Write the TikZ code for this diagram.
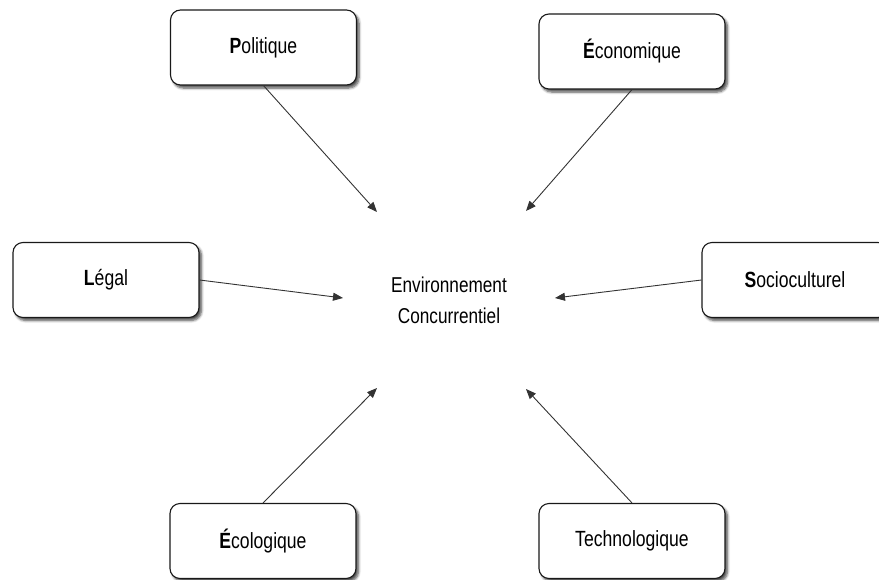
\documentclass[tikz,border=0pt]{standalone}
\usepackage{fontspec}
\setmainfont{Liberation Sans}[FakeStretch=0.8]
\usetikzlibrary{shadows.blur,arrows.meta}
\begin{document}
\begin{tikzpicture}[x=1pt,y=-1pt,
  factor/.style={draw=black!90, line width=1.1pt, fill=white, rounded corners=10pt,
    minimum width=186pt, minimum height=75pt, inner sep=0pt,
    font=\fontsize{22}{26}\selectfont,
    blur shadow={shadow xshift=2.5pt, shadow yshift=-3pt, shadow blur steps=6,
      shadow blur radius=2.5pt, shadow opacity=70}},
  link/.style={draw=black!80, line width=0.9pt, -{Triangle[length=10pt,width=8pt]}},
  centre/.style={align=center, font=\fontsize{21.5}{31}\selectfont, inner sep=0pt}]
\useasboundingbox (0,0) rectangle (879,579);
\node[factor] (pol) at (263.5,47.5) {\textbf{P}olitique};
\node[factor] (eco) at (632,51.5) {\textbf{É}conomique};
\node[factor] (leg) at (106,280) {\textbf{L}égal};
\node[factor] (soc) at (795,280) {\textbf{S}ocioculturel};
\node[factor] (ecl) at (263,541) {\textbf{É}cologique};
\node[factor] (tec) at (632,541) {Technologique};
\node[centre] (env) at (449,300) {Environnement\\Concurrentiel};
\coordinate (tpol) at (377,212);
\coordinate (teco) at (526,211);
\coordinate (tleg) at (343,298);
\coordinate (tsoc) at (555,298);
\coordinate (tecl) at (377,388);
\coordinate (ttec) at (526,389);
\draw[link] (pol.south) -- (tpol);
\draw[link] (eco.south) -- (teco);
\draw[link] (leg.east) -- (tleg);
\draw[link] (soc.west) -- (tsoc);
\draw[link] (ecl.north) -- (tecl);
\draw[link] (tec.north) -- (ttec);
\end{tikzpicture}
\end{document}
